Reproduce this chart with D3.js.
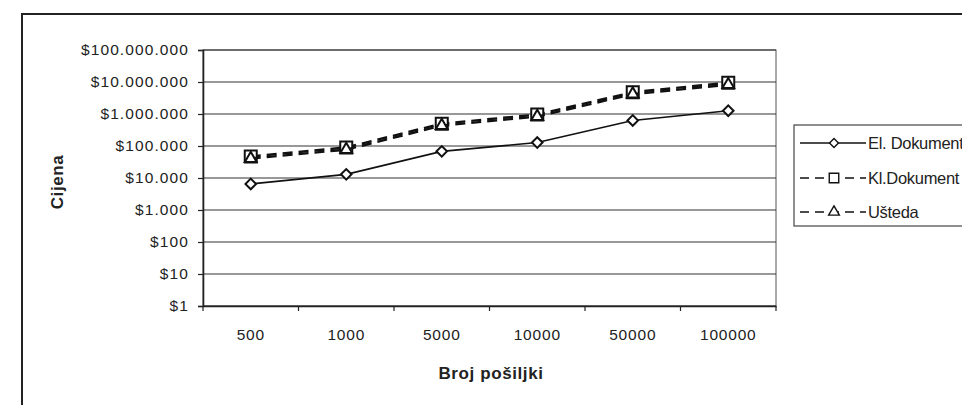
<!DOCTYPE html>
<html><head><meta charset="utf-8">
<script src="https://cdn.jsdelivr.net/npm/d3@7"></script>
<style>
html,body{margin:0;padding:0;background:#fff;}
svg{display:block;font-family:"Liberation Sans",Arial,sans-serif;}
</style></head>
<body>
<svg id="chart" width="962" height="405"></svg>
<script>
const categories = ["500","1000","5000","10000","50000","100000"];
const elDokument = [6500, 13000, 68000, 128000, 630000, 1270000];
const klDokument = [47000, 90000, 500000, 960000, 4800000, 9500000];
const usteda = [40500, 77000, 432000, 832000, 4170000, 8230000];
const yTickValues = [1,10,100,1000,10000,100000,1000000,10000000,100000000];
const yTickLabels = ["$1","$10","$100","$1.000","$10.000","$100.000","$1.000.000","$10.000.000","$100.000.000"];
const seriesNames = ["El. Dokument","Kl.Dokument","Ušteda"];

const svg = d3.select("#chart");
const L = 203, R = 776, T = 50, B = 306;

// outer frame
svg.append("rect").attr("x",22).attr("y",14).attr("width",1000).attr("height",400)
  .attr("fill","#fff").attr("stroke","#222").attr("stroke-width",2);

const x = d3.scaleBand().domain(categories).range([L,R]);
const y = d3.scaleLog().domain([1,100000000]).range([B,T]);

// plot area
svg.append("rect").attr("x",L).attr("y",T).attr("width",R-L).attr("height",B-T)
  .attr("fill","#fff").attr("stroke","#555").attr("stroke-width",1);

// gridlines
svg.append("g").selectAll("line").data(yTickValues).join("line")
  .attr("x1",L).attr("x2",R).attr("y1",d=>y(d)).attr("y2",d=>y(d))
  .attr("stroke","#333").attr("stroke-width",1.2);

// y axis
const yAxis = d3.axisLeft(y).tickValues(yTickValues)
  .tickFormat((d,i)=>yTickLabels[i]).tickSize(5).tickPadding(9);
const gy = svg.append("g").attr("transform",`translate(${L},0)`).call(yAxis);
gy.select(".domain").attr("stroke","#222").attr("stroke-width",1.6);
gy.selectAll(".tick line").attr("stroke","#222").attr("stroke-width",1.2);
gy.selectAll("text").attr("font-size",15.5).attr("fill","#222")
  .attr("font-family","'Liberation Sans',Arial,sans-serif").attr("letter-spacing","1.1px");

// x axis
const xAxis = d3.axisBottom(x).tickSize(0).tickPadding(23);
const gx = svg.append("g").attr("transform",`translate(0,${B})`).call(xAxis);
gx.select(".domain").attr("stroke","#222").attr("stroke-width",1.6);
gx.selectAll("text").attr("font-size",15.5).attr("fill","#222")
  .attr("font-family","'Liberation Sans',Arial,sans-serif").attr("letter-spacing","0.8px");
// band boundary ticks
const bounds = categories.map(c=>x(c)).concat([R]);
svg.append("g").selectAll("line").data(bounds).join("line")
  .attr("x1",d=>d).attr("x2",d=>d).attr("y1",B).attr("y2",B+5)
  .attr("stroke","#222").attr("stroke-width",1.2);

const cx = c => x(c) + x.bandwidth()/2;
const line = d3.line().x((d,i)=>cx(categories[i])).y(d=>y(d));

function markerPath(shape, size){
  if(shape==="diamond") return d3.symbol().type(d3.symbolSquare).size(size)();
  return d3.symbol().type(shape).size(size)();
}
function markerRot(shape){ return shape==="diamond" ? " rotate(45)" : ""; }

function drawSeries(vals, dash, width, shape, size){
  svg.append("path").datum(vals).attr("d",line).attr("fill","none")
    .attr("stroke","#111").attr("stroke-width",width).attr("stroke-dasharray",dash);
  svg.append("g").selectAll("path").data(vals).join("path")
    .attr("transform",(d,i)=>`translate(${cx(categories[i])},${y(d)})${markerRot(shape)}`)
    .attr("d",markerPath(shape,size))
    .attr("fill","#fff").attr("stroke","#111").attr("stroke-width",2);
}
drawSeries(elDokument, null, 1.6, "diamond", 56);
drawSeries(klDokument, "10,6", 2.4, d3.symbolSquare, 144);
drawSeries(usteda, "10,6", 2.4, d3.symbolTriangle, 60);

// axis titles
svg.append("text").attr("x",491).attr("y",379).attr("text-anchor","middle")
  .attr("font-size",17).attr("font-weight","bold").attr("fill","#222").attr("letter-spacing","0.6px")
  .text("Broj pošiljki");
svg.append("text").attr("transform","translate(63,182) rotate(-90)").attr("text-anchor","middle")
  .attr("font-size",17).attr("font-weight","bold").attr("fill","#222").attr("letter-spacing","0.6px")
  .text("Cijena");

// legend
const lg = svg.append("g");
lg.append("rect").attr("x",794).attr("y",125).attr("width",200).attr("height",101)
  .attr("fill","#fff").attr("stroke","#444").attr("stroke-width",1.2);
const legendY = [143,178,212];
const shapes = ["diamond", d3.symbolSquare, d3.symbolTriangle];
const sizes = [40,90,50];
const dashes = [null,"9,6","9,6"];
seriesNames.forEach((name,i)=>{
  lg.append("line").attr("x1",800).attr("x2",866).attr("y1",legendY[i]).attr("y2",legendY[i])
    .attr("stroke","#111").attr("stroke-width",1.3).attr("stroke-dasharray",dashes[i]);
  lg.append("path").attr("transform",`translate(834,${legendY[i]})${markerRot(shapes[i])}`)
    .attr("d",markerPath(shapes[i],sizes[i]))
    .attr("fill","#fff").attr("stroke","#111").attr("stroke-width",1.4);
  lg.append("text").attr("x",868).attr("y",legendY[i]+6).attr("font-size",16.5)
    .attr("fill","#222").attr("letter-spacing","-0.3px").text(name);
});
</script>
</body></html>
